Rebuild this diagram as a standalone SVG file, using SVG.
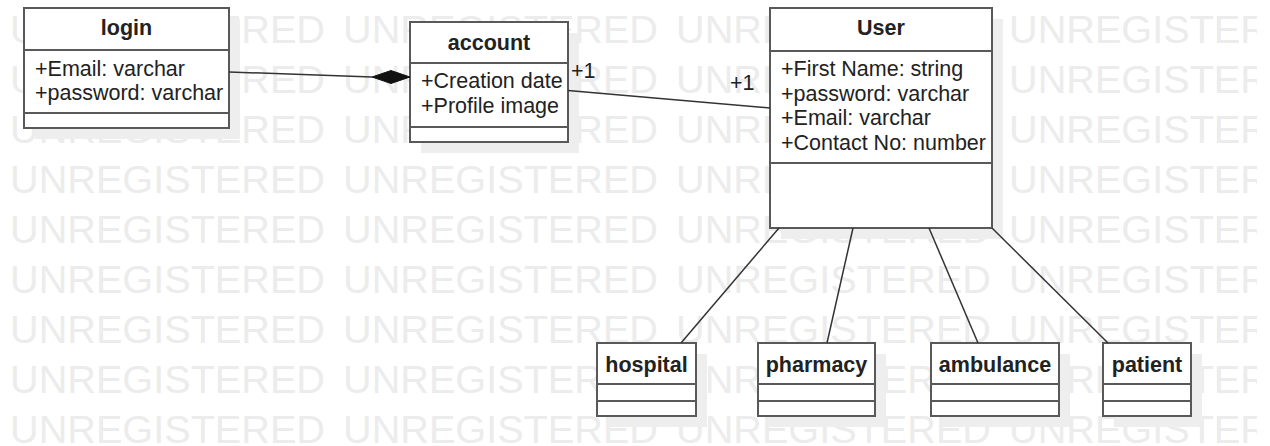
<svg xmlns="http://www.w3.org/2000/svg" width="1270" height="446" viewBox="0 0 1270 446">
<style>
.wm{font-family:"Liberation Sans",Arial,sans-serif;font-size:39.5px;fill:#ececec}
.box{fill:#ffffff;stroke:#595959;stroke-width:2}
.shadow{fill:#eeeeee}
.div{stroke:#595959;stroke-width:2}
.title{font-family:"Liberation Sans",Arial,sans-serif;font-size:21.5px;font-weight:bold;fill:#222;text-anchor:middle}
.attr{font-family:"Liberation Sans",Arial,sans-serif;font-size:21.5px;fill:#222}
.conn{stroke:#333;stroke-width:1.5;fill:none}
</style>
<defs>
<clipPath id="wmclip"><rect x="0" y="0" width="1257" height="446"/></clipPath>
</defs>
<rect x="0" y="0" width="1270" height="446" fill="#ffffff"/>
<g id="watermark" clip-path="url(#wmclip)">
<g id="wmrow">
<text class="wm" x="10" y="43" textLength="315" lengthAdjust="spacingAndGlyphs">UNREGISTERED</text>
<text class="wm" x="343" y="43" textLength="315" lengthAdjust="spacingAndGlyphs">UNREGISTERED</text>
<text class="wm" x="676" y="43" textLength="315" lengthAdjust="spacingAndGlyphs">UNREGISTERED</text>
<text class="wm" x="1009" y="43" textLength="315" lengthAdjust="spacingAndGlyphs">UNREGISTERED</text>
</g>
<use href="#wmrow" y="50"/>
<use href="#wmrow" y="100"/>
<use href="#wmrow" y="150"/>
<use href="#wmrow" y="200"/>
<use href="#wmrow" y="250"/>
<use href="#wmrow" y="300"/>
<use href="#wmrow" y="350"/>
<use href="#wmrow" y="400"/>
</g>
<g id="login">
<rect class="shadow" x="35" y="19" width="205" height="120"/>
<rect class="box" x="24" y="8" width="205" height="120"/>
<line class="div" x1="24" y1="50" x2="229" y2="50"/>
<line class="div" x1="24" y1="113" x2="229" y2="113"/>
<text class="title" x="126.5" y="35">login</text>
<text class="attr" x="35" y="76">+Email: varchar</text>
<text class="attr" x="35" y="100">+password: varchar</text>
</g>
<g id="account">
<rect class="shadow" x="421" y="33" width="158" height="120"/>
<rect class="box" x="410" y="22" width="158" height="120"/>
<line class="div" x1="410" y1="63" x2="568" y2="63"/>
<line class="div" x1="410" y1="127" x2="568" y2="127"/>
<text class="title" x="489" y="50">account</text>
<text class="attr" x="421" y="88">+Creation date</text>
<text class="attr" x="421" y="113">+Profile image</text>
</g>
<g id="user">
<rect class="shadow" x="781" y="19" width="222" height="220"/>
<rect class="box" x="770" y="8" width="222" height="220"/>
<line class="div" x1="770" y1="51" x2="992" y2="51"/>
<line class="div" x1="770" y1="163" x2="992" y2="163"/>
<text class="title" x="881" y="35">User</text>
<text class="attr" x="781" y="76">+First Name: string</text>
<text class="attr" x="781" y="100.5">+password: varchar</text>
<text class="attr" x="781" y="125">+Email: varchar</text>
<text class="attr" x="781" y="149.5">+Contact No: number</text>
</g>
<g id="hospital">
<rect class="shadow" x="608" y="354" width="99" height="73"/>
<rect class="box" x="597" y="343" width="99" height="73"/>
<line class="div" x1="597" y1="384" x2="696" y2="384"/>
<line class="div" x1="597" y1="401" x2="696" y2="401"/>
<text class="title" x="646.5" y="372">hospital</text>
</g>
<g id="pharmacy">
<rect class="shadow" x="769" y="354" width="117" height="73"/>
<rect class="box" x="758" y="343" width="117" height="73"/>
<line class="div" x1="758" y1="384" x2="875" y2="384"/>
<line class="div" x1="758" y1="401" x2="875" y2="401"/>
<text class="title" x="816.5" y="372">pharmacy</text>
</g>
<g id="ambulance">
<rect class="shadow" x="942" y="354" width="128" height="73"/>
<rect class="box" x="931" y="343" width="128" height="73"/>
<line class="div" x1="931" y1="384" x2="1059" y2="384"/>
<line class="div" x1="931" y1="401" x2="1059" y2="401"/>
<text class="title" x="995" y="372">ambulance</text>
</g>
<g id="patient">
<rect class="shadow" x="1114" y="354" width="88" height="73"/>
<rect class="box" x="1103" y="343" width="88" height="73"/>
<line class="div" x1="1103" y1="384" x2="1191" y2="384"/>
<line class="div" x1="1103" y1="401" x2="1191" y2="401"/>
<text class="title" x="1147" y="372">patient</text>
</g>
<g id="connectors">
<line class="conn" x1="229" y1="72" x2="372" y2="77"/>
<polygon points="372,77 391,70.5 410,77 391,83.5" fill="#111" stroke="#111" stroke-width="1"/>
<line class="conn" x1="568" y1="90.5" x2="770" y2="108"/>
<text class="attr" x="571" y="78">+1</text>
<text class="attr" x="730" y="90">+1</text>
<line class="conn" x1="779" y1="228" x2="681" y2="343"/>
<line class="conn" x1="853" y1="228" x2="827" y2="343"/>
<line class="conn" x1="929" y1="228" x2="978" y2="343"/>
<line class="conn" x1="992" y1="228" x2="1108" y2="343"/>
</g>
</svg>
